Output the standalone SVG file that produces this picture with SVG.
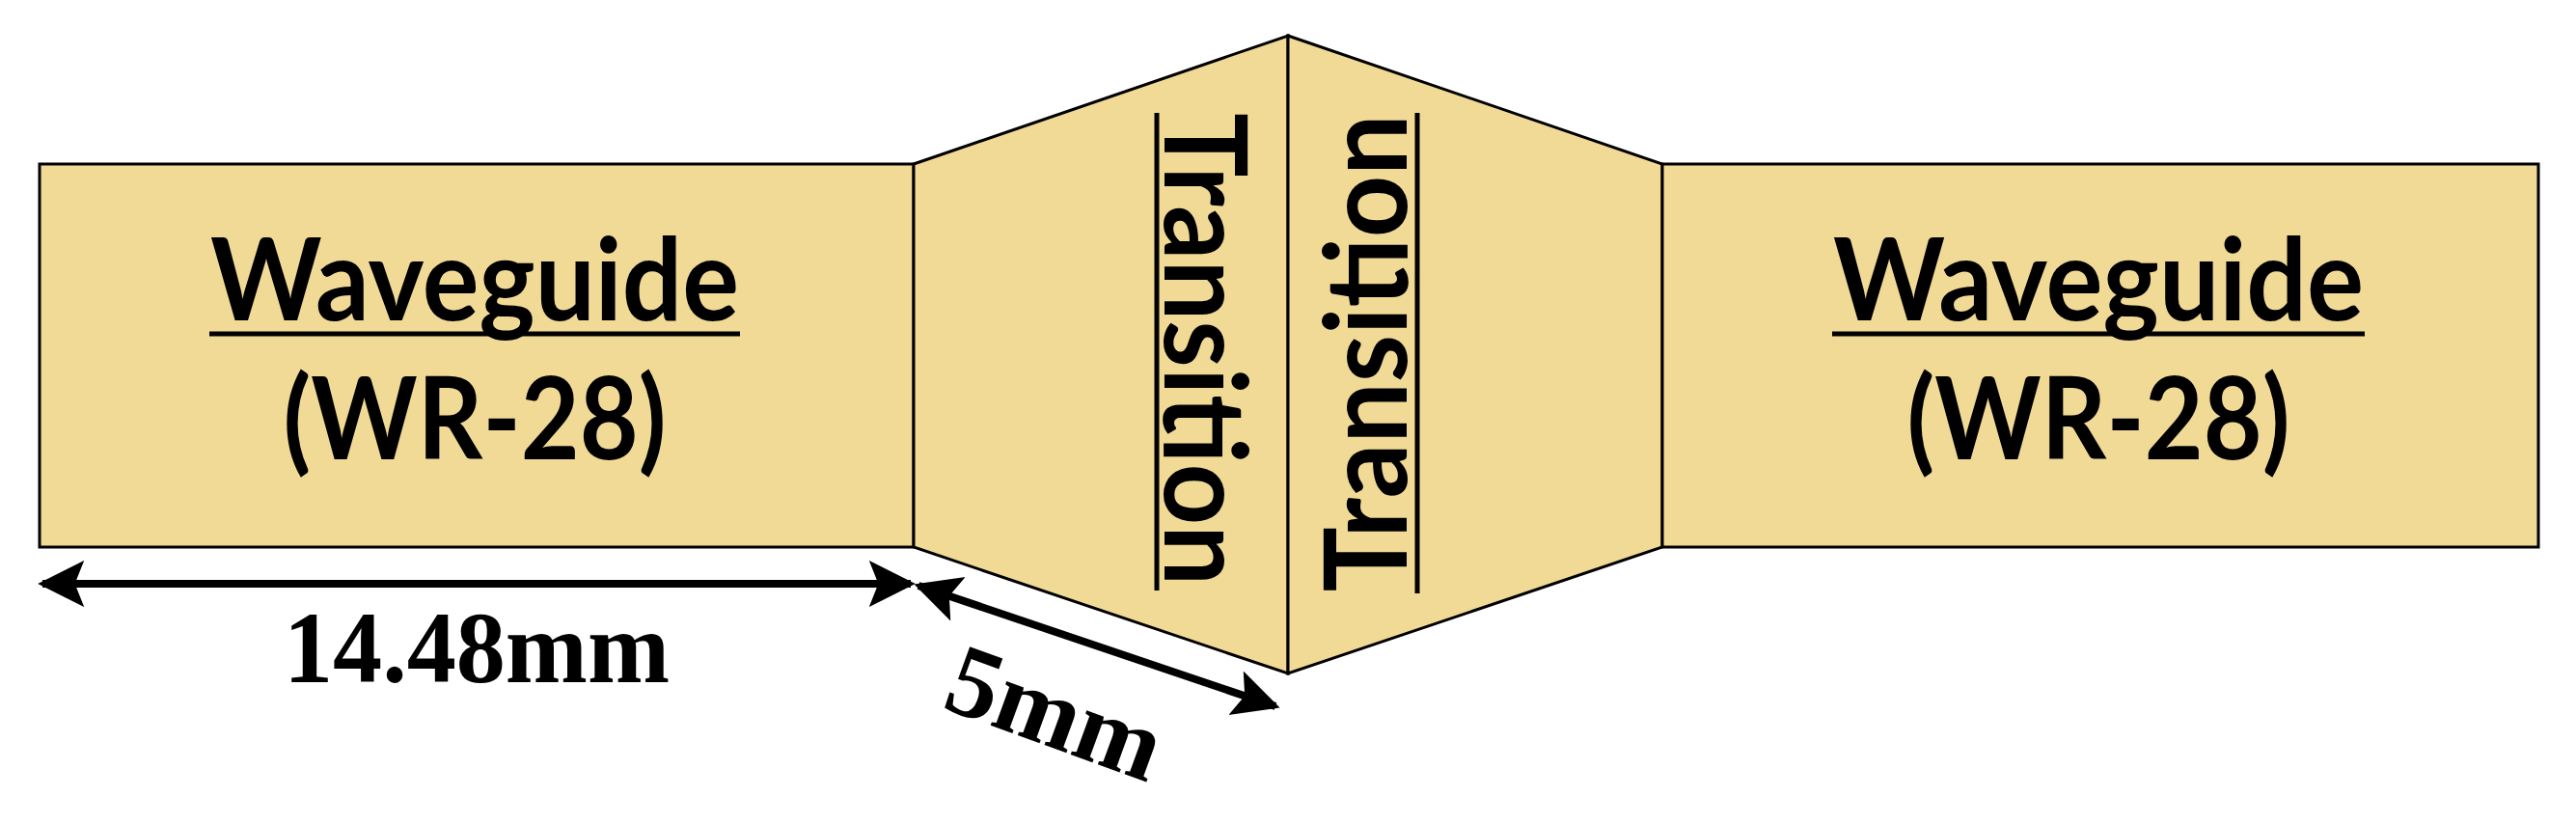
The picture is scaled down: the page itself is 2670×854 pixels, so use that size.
<svg xmlns="http://www.w3.org/2000/svg" width="2670" height="854" viewBox="0 0 2670 854">
<style>
.b{fill:#f1da96;stroke:#000;stroke-width:3}
.t{font-family:Lato,"Open Sans",sans-serif;font-weight:bold;font-size:118px;fill:#000}
.d{font-family:"Liberation Serif",serif;font-weight:bold;font-size:106px;fill:#000}
.u{stroke:#000;stroke-width:5}
.a{stroke:#000;stroke-width:8;fill:none;marker-start:url(#m);marker-end:url(#m)}
</style>
<defs><marker id="m" viewBox="0 0 10 10" refX="9" refY="5" markerWidth="6" markerHeight="7" orient="auto-start-reverse" markerUnits="strokeWidth"><path d="M0,0L10,5L0,10L2,5z" fill="#000"/></marker></defs>
<rect width="2670" height="854" fill="#fff"/>
<g id="wg-left"><rect class="b" x="41" y="170" width="906" height="397"/>
<text class="t" x="492" y="332" text-anchor="middle" textLength="548" lengthAdjust="spacingAndGlyphs">Waveguide</text>
<line class="u" x1="217" y1="346" x2="767" y2="346"/>
<text class="t" x="492" y="476" text-anchor="middle" textLength="397" lengthAdjust="spacingAndGlyphs">(WR-28)</text></g>
<g id="tr-left"><polygon class="b" points="947,170 1335,37 1335,698 947,567"/>
<text class="t" transform="translate(1207,362) rotate(90)" text-anchor="middle" textLength="490" lengthAdjust="spacingAndGlyphs">Transition</text>
<line class="u" x1="1199" y1="117" x2="1199" y2="612"/></g>
<g id="tr-right"><polygon class="b" points="1335,37 1723,170 1723,567 1335,698"/>
<text class="t" transform="translate(1458,366) rotate(-90)" text-anchor="middle" textLength="495" lengthAdjust="spacingAndGlyphs">Transition</text>
<line class="u" x1="1469" y1="117" x2="1469" y2="615"/></g>
<g id="wg-right"><rect class="b" x="1723" y="170" width="908" height="397"/>
<text class="t" x="2175" y="332" text-anchor="middle" textLength="550" lengthAdjust="spacingAndGlyphs">Waveguide</text>
<line class="u" x1="1899" y1="346" x2="2451" y2="346"/>
<text class="t" x="2175" y="476" text-anchor="middle" textLength="397" lengthAdjust="spacingAndGlyphs">(WR-28)</text></g>
<g id="connectors">
<line class="a" x1="44" y1="605" x2="944" y2="605"/>
<line class="a" x1="952" y1="607" x2="1322" y2="732"/>
</g>
<text class="d" x="494" y="707" text-anchor="middle" textLength="400" lengthAdjust="spacingAndGlyphs">14.48mm</text>
<text class="d" transform="translate(1082,772) rotate(20)" text-anchor="middle">5mm</text>
</svg>
